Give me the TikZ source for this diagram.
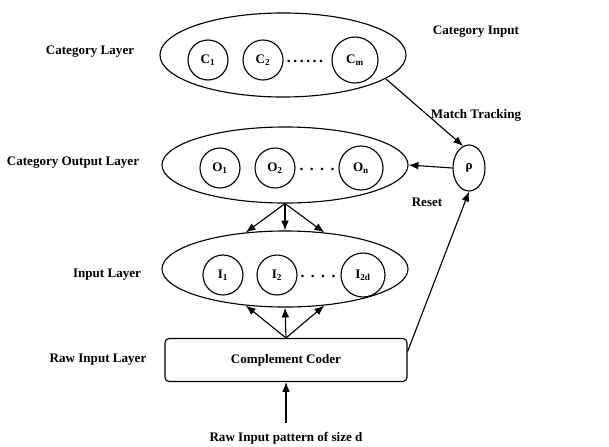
\documentclass[tikz,border=0pt]{standalone}
\usepackage{fontspec}
\setmainfont{Liberation Serif}
\usepackage{tikz}
\usetikzlibrary{arrows.meta,shapes.geometric,positioning}

\begin{document}
\begin{tikzpicture}[
    x=0.025cm, y=-0.025cm,
    >={Latex[length=7pt,width=5.5pt]},
    every node/.style={font=\bfseries\fontsize{9.3}{11}\selectfont},
    layer/.style={draw, thick, ellipse, inner sep=0pt, minimum width=6.15cm, minimum height=1.9cm},
    unit/.style={draw, thick, circle, inner sep=0pt, minimum size=1cm},
    dotrow/.style={font=\bfseries\fontsize{11}{12}\selectfont},
    coderbox/.style={draw, thick, rounded corners=3pt, minimum width=6.05cm, minimum height=1.075cm}
]
\useasboundingbox (0,0) rectangle (609,446);

% layers
\node[layer, minimum height=2.1cm] (cat) at (283,55) {};
\node[layer] (out) at (285,165) {};
\node[layer] (in) at (285,269) {};
\node[coderbox] (coder) at (286,360) {Complement Coder};

% units
\node[unit] (c1) at (208,60) {C\textsubscript{1}};
\node[unit] (c2) at (263,60) {C\textsubscript{2}};
\node[dotrow] at (305,61) {.\,.\,.\,.\,.\,.};
\node[unit, minimum size=1.15cm] (cm) at (355,60) {C\textsubscript{m}};

\node[unit] (o1) at (220,168) {O\textsubscript{1}};
\node[unit] (o2) at (275,168) {O\textsubscript{2}};
\node[dotrow] at (317,169) {.\ \,.\ \,.\ \,.};
\node[unit, minimum size=1.1cm] (on) at (361,168) {O\textsubscript{n}};

\node[unit] (i1) at (223,275) {I\textsubscript{1}};
\node[unit] (i2) at (277,275) {I\textsubscript{2}};
\node[dotrow] at (318,276) {.\ \,.\ \,.\ \,.};
\node[unit, minimum size=1.1cm] (i2d) at (363,275) {I\textsubscript{2d}};

\node[draw, thick, ellipse, inner sep=0pt, minimum width=0.8cm, minimum height=1.15cm] (rho) at (469,168) {ρ};

% labels
\node at (90,52) {Category Layer};
\node at (73,163) {Category Output Layer};
\node at (107,275) {Input Layer};
\node at (98,360) {Raw Input Layer};
\node at (476,32) {Category Input};
\node at (476,115) {Match Tracking};
\node at (427,202) {Reset};
\node (raw) at (286,438) {Raw Input pattern of size d};

% connections
\draw[->, thick] (out.south) -- (in.137);
\draw[->, thick] (out.south) -- (in.north);
\draw[->, thick] (out.south) -- (in.43);
\draw[->, thick] (coder.north) -- (in.223);
\draw[->, thick] (coder.north) -- (in.south);
\draw[->, thick] (coder.north) -- (in.317);
\draw[->, thick, shorten <=3pt] (raw.north) -- (coder.south);
\draw[->, thick] (cat.-13) -- (rho.105);
\draw[->, thick] (rho.west) -- (out.east);
\draw[->, thick] (coder.4) -- (rho.south);
\end{tikzpicture}
\end{document}
